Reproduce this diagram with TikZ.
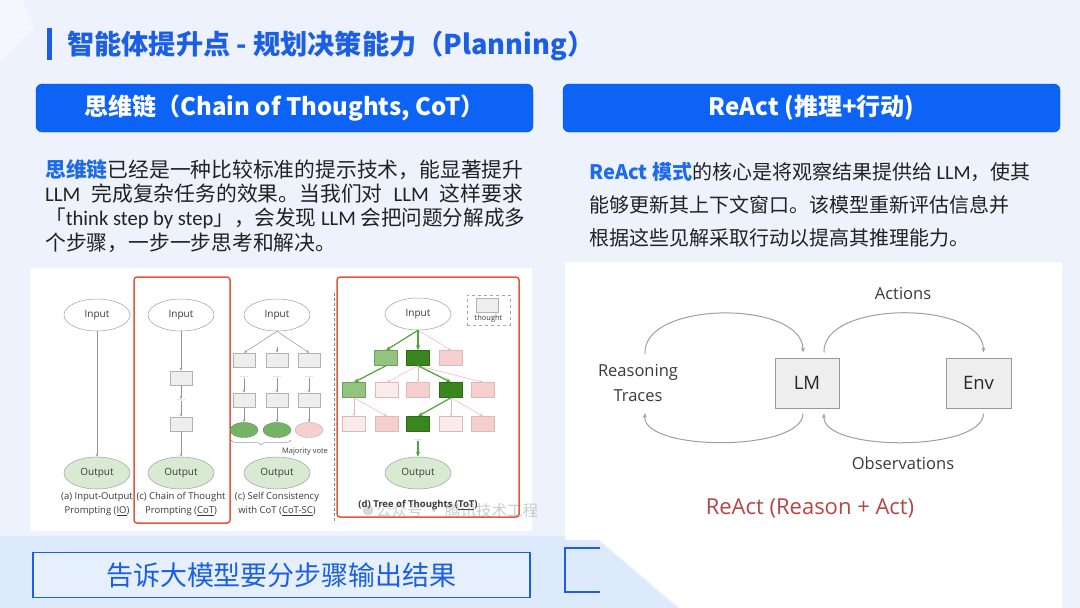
\documentclass[tikz,border=0pt]{standalone}
\usepackage{graphicx}
\usepackage{fontspec}
\setmainfont{Noto Sans CJK SC}
\newfontfamily\diag{Open Sans}
\newfontfamily\lat{Carlito}
\usetikzlibrary{arrows.meta,shapes.geometric,decorations.pathreplacing}
\definecolor{bgc}{HTML}{EEF2FC}
\definecolor{bgblue}{HTML}{DCEAFB}
\definecolor{hdrblue}{HTML}{0D63F5}
\definecolor{ttlblue}{HTML}{1C5FE5}
\definecolor{hlblue}{HTML}{1E6BEA}
\definecolor{txt}{HTML}{222222}
\definecolor{redbox}{HTML}{E2573C}
\definecolor{outg}{HTML}{D9EAD3}
\definecolor{gL}{HTML}{93C47D}
\definecolor{gD}{HTML}{38861D}
\definecolor{gSC}{HTML}{74B265}
\definecolor{pL}{HTML}{F6CFCF}
\definecolor{pVL}{HTML}{FCEBEB}
\definecolor{pline}{HTML}{F0B4B4}
\definecolor{gline}{HTML}{4CA63B}
\definecolor{thfill}{HTML}{EEEEEE}
\definecolor{reactred}{HTML}{B84545}
\definecolor{dgray}{HTML}{3A3A3A}
\newcommand\setfs[2]{\fontsize{#1}{#2}\selectfont}
\begin{document}
\begin{tikzpicture}[x=1pt,y=-1pt,
  hdr/.style={rounded corners=6pt,fill=hdrblue,draw=hdrblue!80!black,line width=0.4pt,minimum width=497pt,minimum height=48pt,text=white,font=\bfseries\setfs{24}{28}},
  para/.style={anchor=west,inner sep=0pt,text=txt,font=\setfs{20.8}{24}},
  parb/.style={anchor=west,inner sep=0pt,text=txt,font=\setfs{20}{24}},
  inp/.style={ellipse,draw=gray!75,fill=white,line width=0.5pt,minimum width=66pt,minimum height=32pt,inner sep=0pt,font=\diag\setfs{10}{12},text=dgray},
  outp/.style={inp,fill=outg},
  th/.style={rectangle,draw=gray!60,fill=thfill,line width=0.5pt,minimum width=22pt,minimum height=14pt,inner sep=0pt},
  tg/.style={th,minimum width=23pt,minimum height=15pt},
  dotsn/.style={inner sep=0.5pt,font=\diag\setfs{5}{5},text=gray},
  arr/.style={draw=gray!85,line width=0.5pt,-{Stealth[length=3pt,width=2.5pt]}},
  garr/.style={draw=gline,line width=1.2pt,-{Stealth[length=5pt,width=4pt]}},
  parr/.style={draw=pline,line width=0.5pt,-{Stealth[length=3pt,width=2.5pt]}},
  capt/.style={align=center,font=\diag\setfs{9.5}{14},text=dgray,inner sep=0pt},
  rbox/.style={draw=redbox,line width=1.5pt,rounded corners=3pt,inner sep=0pt},
  lmbox/.style={draw=gray!80,fill=thfill,line width=1pt,minimum height=50pt,inner sep=0pt,font=\diag\setfs{18.5}{20},text=black!85},
  rlab/.style={font=\diag\setfs{16.5}{25},text=dgray,align=center,inner sep=0pt},
  rarr/.style={draw=gray!75,line width=1pt,-{Stealth[length=5pt,width=4pt]}}
]
\useasboundingbox (0,0) rectangle (1080,608);
% background
\fill[bgc] (0,0) rectangle (1080,608);
\fill[white,opacity=0.45] (0,0) -- (22,0) -- (34,26) -- (0,62) -- cycle;
\fill[bgblue] (0,536) -- (593,536) -- (677,608) -- (0,608) -- cycle;
\fill[white] (600,540) -- (1062,540) -- (1062,608) -- (680,608) -- cycle;

% title
\fill[ttlblue] (47,28) rectangle (51.5,60);
\node[anchor=west,inner sep=0pt,text=ttlblue,font=\bfseries\setfs{27.2}{31}] (title) at (67,46) {智能体提升点 - 规划决策能力（Planning）};

% headers
\node[hdr] (h1) at (284.5,108) {思维链（Chain of Thoughts, CoT）};
\node[hdr] (h2) at (811.5,108) {ReAct (推理+行动)};

% left paragraph
\node[para] (l1) at (45,170) {\makebox[478pt][s]{\textcolor{hlblue}{\bfseries 思维链}已经是一种比较标准的提示技术，能显著提升}};
\node[para] (l2) at (45,194) {\makebox[478pt][s]{{\lat LLM} 完成复杂任务的效果。当我们对 {\lat LLM} 这样要求}};
\node[para] (l3) at (45,218) {\resizebox{480pt}{\height}{「{\lat think step by step}」，会发现 {\lat LLM} 会把问题分解成多}};
\node[para] (l4) at (45,243) {个步骤，一步一步思考和解决。};

% right paragraph
\node[parb] (r1) at (589,172) {\textcolor{hlblue}{\bfseries ReAct 模式}的核心是将观察结果提供给 {\lat LLM}，使其};
\node[parb] (r2) at (589,205) {能够更新其上下文窗口。该模型重新评估信息并};
\node[parb] (r3) at (589,238) {根据这些见解采取行动以提高其推理能力。};

% left image panel
\fill[white] (30,268) rectangle (532,531);

% (a) IO
\node[inp] (ai) at (97,315) {Input};
\node[outp] (ao) at (97,473) {Output};
\draw[arr] (ai) -- (ao);
\node[capt] (ac) at (97,504) {(a) Input-Output\\Prompting (\underline{IO})};

% (c) CoT
\node[rbox,minimum width=96pt,minimum height=246pt] (cotbox) at (182,400) {};
\node[inp] (ci) at (181,315) {Input};
\node[th] (c1) at (181,378) {};
\node[dotsn] (cd) at (181,400) {......};
\node[th] (c2) at (181,424) {};
\node[outp] (co) at (181,473) {Output};
\draw[arr] (ci) -- (c1);
\draw[arr] (c1) -- (cd);
\draw[arr] (cd) -- (c2);
\draw[arr] (c2) -- (co);
\node[capt] (cc) at (181,504) {(c) Chain of Thought\\Prompting (\underline{CoT})};

% (c) SC
\node[inp] (si) at (277,315) {Input};
\node[th] (s11) at (244,360) {};
\node[th] (s12) at (277,360) {};
\node[th] (s13) at (309,360) {};
\node[dotsn] (sd1) at (244,377) {......};
\node[dotsn] (sd2) at (277,377) {......};
\node[dotsn] (sd3) at (309,377) {......};
\node[th] (s21) at (244,400) {};
\node[th] (s22) at (277,400) {};
\node[th] (s23) at (309,400) {};
\node[ellipse,fill=gSC,draw=gSC!80!black,line width=0.4pt,minimum width=28pt,minimum height=15pt,inner sep=0pt] (e1) at (244,430) {};
\node[ellipse,fill=gSC,draw=gSC!80!black,line width=0.4pt,minimum width=28pt,minimum height=15pt,inner sep=0pt] (e2) at (277,430) {};
\node[ellipse,fill=pL,draw=pL!80!black,line width=0.4pt,minimum width=28pt,minimum height=15pt,inner sep=0pt] (e3) at (309,430) {};
\draw[arr] (si.south) -- (s11.north);
\draw[arr] ([yshift=6pt]s12.north) -- (s12.north);
\draw[arr] (si.south) -- (s13.north);
\foreach \i in {1,2,3}{
  \draw[arr] (sd\i) -- (s2\i);
}
\draw[arr] (s21) -- (e1);
\draw[arr] (s22) -- (e2);
\draw[arr] (s23) -- (e3);
\draw[gray!80,line width=0.5pt,decorate,decoration={brace,mirror,amplitude=5pt}] (231,440) -- (291,440);
\node[font=\diag\setfs{7.5}{9},text=dgray,inner sep=0pt] (mv) at (305,452) {Majority vote};
\node[outp] (so) at (277,473) {Output};
\node[capt] (sc) at (277,504) {(c) Self Consistency\\with CoT (\underline{CoT-SC})};

% separator
\draw[draw=gray!60!brown,line width=1.2pt,dash pattern=on 3pt off 2pt] (334.5,293) -- (334.5,521);

% (d) ToT
\node[rbox,minimum width=182pt,minimum height=240pt] (totbox) at (428,397) {};
\node[draw=gray!70,dashed,line width=0.6pt,minimum width=43pt,minimum height=30pt,inner sep=0pt] (leg) at (488.5,310) {};
\node[th] (legth) at (487,305) {};
\node[font=\diag\setfs{7.5}{9},text=dgray,inner sep=0pt] (legt) at (488.5,319) {thought};
\node[inp] (ti) at (418,314) {Input};
\node[tg,fill=gL,draw=gL!80!black] (t1a) at (386,358) {};
\node[tg,fill=gD,draw=gD!80!black] (t1b) at (418,358) {};
\node[tg,fill=pL,draw=pL!90!black] (t1c) at (451,358) {};
\node[tg,fill=gL,draw=gL!80!black] (t2a) at (354,390) {};
\node[tg,fill=pVL,draw=pL!90!black] (t2b) at (387,390) {};
\node[tg,fill=pL,draw=pL!90!black] (t2c) at (418,390) {};
\node[tg,fill=gD,draw=gD!80!black] (t2d) at (451,390) {};
\node[tg,fill=pL,draw=pL!90!black] (t2e) at (483,390) {};
\node[tg,fill=pVL,draw=pL!90!black] (t3a) at (354,424) {};
\node[tg,fill=pL,draw=pL!90!black] (t3b) at (387,424) {};
\node[tg,fill=gD,draw=gD!80!black] (t3c) at (418,424) {};
\node[tg,fill=pVL,draw=pL!90!black] (t3d) at (451,424) {};
\node[tg,fill=pL,draw=pL!90!black] (t3e) at (483,424) {};
\node[dotsn] (td) at (418,440) {......};
\node[outp] (to) at (418,473) {Output};
\draw[parr] (ti.south) -- (t1c.north);
\draw[parr] (t1b.south) -- (t2b.north);
\draw[parr] (t1b.south) -- (t2c.north);
\draw[parr] (t1b.south) -- (t2e.north);
\draw[parr] (t2a.south) -- (t3a.north);
\draw[parr] (t2a.south) -- (t3b.north);
\draw[parr] (t2d.south) -- (t3d.north);
\draw[parr] (t2d.south) -- (t3e.north);
\draw[garr] (ti.south) -- (t1a.north);
\draw[garr] (ti.south) -- (t1b.north);
\draw[garr] (t1a.south) -- (t2a.north);
\draw[garr] (t1b.south) -- (t2d.north);
\draw[garr] (t2d.south) -- (t3c.north);
\draw[garr] (td) -- (to);
\node[capt,font=\diag\bfseries\setfs{9.5}{12}] (tc) at (418,505) {(d) Tree of Thoughts (\underline{ToT})};
% watermark
\fill[gray,opacity=0.3] (368,510) circle (5.5pt);
\node[anchor=west,inner sep=0pt,text=gray,opacity=0.4,font=\setfs{15.5}{17}] (wm) at (376,511) {公众号 · 腾讯技术工程};

% right image panel
\fill[white] (565,262) rectangle (1062,540);
\node[lmbox,minimum width=64pt] (lm) at (807,383) {LM};
\node[lmbox,minimum width=65pt] (env) at (978.5,383) {Env};
\node[rlab] (act) at (903,294) {Actions};
\node[rlab] (obs) at (903,463) {Observations};
\node[rlab] (reas) at (638,383) {Reasoning\\Traces};
\coordinate (ra) at (645,354);
\coordinate (rb) at (645,413);
\draw[rarr] (ra) .. controls (642,300) and (803,300) .. ([xshift=-4pt,yshift=5pt]lm.north);
\draw[rarr] ([xshift=17pt,yshift=5pt]lm.north) .. controls (822,300) and (983,300) .. ([xshift=5pt,yshift=5pt]env.north);
\draw[rarr] ([xshift=5pt,yshift=-5pt]env.south) .. controls (983,452) and (822,452) .. ([xshift=17pt,yshift=-5pt]lm.south);
\draw[rarr] ([xshift=-4pt,yshift=-5pt]lm.south) .. controls (803,452) and (642,452) .. (rb);
\node[text=reactred,font=\diag\setfs{22}{26},inner sep=0pt] (rt) at (810,508) {ReAct (Reason + Act)};

% bottom
\node[draw=ttlblue,line width=1.2pt,fill=white,fill opacity=0.3,text opacity=1,minimum width=497pt,minimum height=45pt,inner sep=0pt,text=ttlblue,font=\setfs{27}{30}] (bb) at (281.5,575) {告诉大模型要分步骤输出结果};
\coordinate (bk1) at (600,548);
\coordinate (bk2) at (600,592);
\draw[ttlblue,line width=1.2pt] (bk1) -- (565,548) -- (565,592) -- (bk2);
\end{tikzpicture}
\end{document}
